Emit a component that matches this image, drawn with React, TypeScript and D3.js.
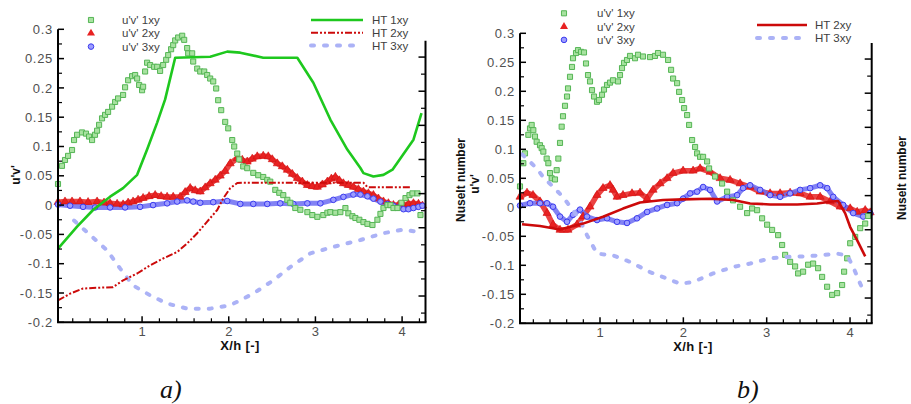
import React, { useRef, useEffect } from 'react';
import * as d3 from 'd3';

type Pt = [number, number];

// axis ticks
const uvTicks = [-0.2, -0.15, -0.1, -0.05, 0, 0.05, 0.1, 0.15, 0.2, 0.25, 0.3];
const xTicks = [1, 2, 3, 4];
const nuTicks = [20, 30, 40, 50, 60, 70, 80, 90];

// panel a) u'v' (left axis)
const aUv1: Pt[] = [[0.03,0.036],[0.076,0.067],[0.111,0.077],[0.146,0.084],[0.192,0.094],[0.215,0.111],[0.25,0.12],[0.307,0.124],[0.353,0.122],[0.388,0.117],[0.423,0.111],[0.457,0.12],[0.481,0.127],[0.504,0.137],[0.538,0.148],[0.573,0.154],[0.608,0.159],[0.654,0.168],[0.689,0.176],[0.723,0.182],[0.781,0.188],[0.804,0.201],[0.839,0.213],[0.885,0.22],[0.92,0.222],[0.943,0.216],[0.966,0.205],[1.0,0.196],[1.012,0.202],[1.035,0.228],[1.058,0.243],[1.093,0.239],[1.139,0.236],[1.174,0.236],[1.208,0.229],[1.243,0.239],[1.278,0.248],[1.301,0.256],[1.335,0.266],[1.359,0.273],[1.382,0.281],[1.416,0.286],[1.463,0.289],[1.486,0.282],[1.52,0.268],[1.532,0.259],[1.578,0.259],[1.59,0.245],[1.636,0.233],[1.671,0.228],[1.717,0.228],[1.751,0.222],[1.786,0.216],[1.821,0.211],[1.855,0.199],[1.878,0.179],[1.913,0.162],[1.959,0.142],[1.994,0.131],[2.04,0.111],[2.063,0.1],[2.098,0.088],[2.121,0.078],[2.167,0.066],[2.213,0.063],[2.283,0.055],[2.34,0.051],[2.398,0.048],[2.444,0.043],[2.479,0.04],[2.537,0.026],[2.583,0.021],[2.629,0.017],[2.676,0.009],[2.71,0.004],[2.768,-0.005],[2.826,-0.008],[2.907,-0.012],[2.964,-0.017],[3.022,-0.02],[3.091,-0.017],[3.138,-0.013],[3.172,-0.012],[3.23,-0.013],[3.288,-0.012],[3.346,-0.005],[3.38,-0.014],[3.427,-0.019],[3.461,-0.022],[3.507,-0.025],[3.554,-0.029],[3.6,-0.032],[3.658,-0.034],[3.715,-0.025],[3.75,-0.015],[3.785,-0.005],[3.831,0],[3.866,0],[3.9,-0.005],[3.946,-0.005],[3.993,0.004],[4.039,0.012],[4.085,0.017],[4.12,0.02],[4.177,0.02],[4.212,-0.017]];
const aUv2: Pt[] = [[0.03,0.005],[0.111,0.006],[0.192,0.006],[0.284,0.006],[0.377,0.005],[0.481,0.006],[0.561,0.004],[0.631,0.003],[0.712,0.002],[0.781,0.001],[0.839,0.004],[0.896,0.006],[0.954,0.009],[1.012,0.012],[1.081,0.015],[1.151,0.017],[1.22,0.015],[1.289,0.014],[1.359,0.014],[1.439,0.014],[1.497,0.022],[1.555,0.029],[1.613,0.025],[1.671,0.023],[1.728,0.03],[1.786,0.037],[1.844,0.043],[1.902,0.05],[1.959,0.058],[2.017,0.071],[2.098,0.08],[2.156,0.077],[2.213,0.074],[2.271,0.079],[2.329,0.083],[2.398,0.084],[2.456,0.083],[2.502,0.078],[2.56,0.071],[2.618,0.066],[2.676,0.06],[2.733,0.053],[2.791,0.046],[2.849,0.04],[2.907,0.034],[2.964,0.032],[3.022,0.031],[3.08,0.035],[3.138,0.04],[3.184,0.045],[3.23,0.048],[3.276,0.042],[3.323,0.037],[3.38,0.034],[3.438,0.031],[3.496,0.027],[3.554,0.023],[3.611,0.02],[3.669,0.017],[3.727,0.011],[3.785,0.006],[3.842,0.003],[3.9,0],[3.958,0],[4.016,0],[4.073,0.002],[4.131,0.003],[4.189,0.002],[4.235,-0.001]];
const aUv3: Pt[] = [[0.03,0.001],[0.169,-0.001],[0.319,-0.003],[0.457,-0.004],[0.631,-0.004],[0.804,-0.004],[0.977,-0.003],[1.127,0],[1.289,0.003],[1.405,0.006],[1.52,0.008],[1.59,0.006],[1.671,0.004],[1.821,0.005],[1.982,0.007],[2.133,0.002],[2.283,0.002],[2.444,0.002],[2.594,0.003],[2.745,0.002],[2.907,0.003],[3.057,0.003],[3.207,0.009],[3.323,0.014],[3.438,0.018],[3.519,0.018],[3.6,0.015],[3.669,0.011],[3.75,0.006],[3.831,0.002],[3.9,-0.001],[3.958,-0.004],[4.016,-0.007],[4.073,-0.007],[4.131,-0.005],[4.189,-0.003],[4.235,-0.001]];
// panel a) Nusselt number (right axis)
const aHt1: Pt[] = [[0.03,33.9],[0.25,40.3],[0.434,45.2],[0.631,49.1],[0.781,51.6],[0.943,55.5],[1.058,62.9],[1.174,70.8],[1.266,77.6],[1.382,89.8],[1.786,90.1],[1.982,91.6],[2.133,91.3],[2.398,89.8],[2.791,89.8],[2.976,82.5],[3.172,71.7],[3.368,62.9],[3.519,57.5],[3.554,56],[3.669,55],[3.785,55.5],[3.889,57],[4.131,65.8],[4.224,73.6]];
const aHt2: Pt[] = [[0.03,18.7],[0.169,20.7],[0.319,22.2],[0.55,22.5],[0.665,22.6],[0.781,24.6],[0.943,26.6],[1.093,29],[1.243,31],[1.405,32.9],[1.52,35.4],[1.636,38.4],[1.751,41.8],[1.867,45.2],[1.936,48.6],[2.017,51.6],[2.098,53.1],[2.167,53.2],[2.826,53.2],[3.554,53.2],[3.6,51.9],[4.097,51.9]];
const aHt3: Pt[] = [[0.215,42.1],[0.4,37.9],[0.596,33.4],[0.746,28.1],[0.896,23.1],[1.093,20.2],[1.289,17.8],[1.52,16.3],[1.786,16.3],[2.017,17.3],[2.283,20.7],[2.514,24.6],[2.71,28.5],[2.941,32.5],[3.207,34.4],[3.519,36.4],[3.785,38.4],[4.016,39.5],[4.177,38.8]];

// panel b) u'v' (left axis)
const bUv1: Pt[] = [[0.04,0.036],[0.08,0.076],[0.1,0.093],[0.14,0.125],[0.16,0.136],[0.18,0.142],[0.2,0.133],[0.22,0.122],[0.24,0.113],[0.28,0.107],[0.3,0.102],[0.32,0.096],[0.36,0.084],[0.38,0.076],[0.4,0.059],[0.42,0.05],[0.46,0.048],[0.48,0.064],[0.5,0.084],[0.52,0.111],[0.54,0.139],[0.556,0.157],[0.58,0.175],[0.604,0.191],[0.616,0.205],[0.64,0.225],[0.664,0.242],[0.676,0.257],[0.712,0.266],[0.736,0.271],[0.772,0.268],[0.808,0.267],[0.832,0.248],[0.856,0.228],[0.88,0.217],[0.904,0.202],[0.928,0.191],[0.964,0.182],[0.988,0.185],[1.024,0.194],[1.048,0.203],[1.084,0.211],[1.12,0.215],[1.156,0.219],[1.216,0.217],[1.24,0.228],[1.264,0.24],[1.288,0.249],[1.324,0.254],[1.36,0.261],[1.42,0.257],[1.456,0.263],[1.516,0.26],[1.6,0.259],[1.66,0.261],[1.696,0.266],[1.756,0.263],[1.817,0.254],[1.853,0.237],[1.877,0.222],[1.925,0.214],[1.949,0.199],[1.985,0.185],[2.009,0.171],[2.045,0.159],[2.069,0.142],[2.105,0.116],[2.141,0.104],[2.165,0.093],[2.201,0.087],[2.237,0.087],[2.285,0.079],[2.309,0.067],[2.381,0.053],[2.465,0.041],[2.525,0.027],[2.597,0.012],[2.681,0.001],[2.765,-0.01],[2.825,-0.002],[2.885,-0.005],[2.945,-0.019],[3.005,-0.03],[3.065,-0.039],[3.137,-0.048],[3.185,-0.065],[3.221,-0.082],[3.281,-0.094],[3.341,-0.102],[3.377,-0.114],[3.437,-0.111],[3.497,-0.099],[3.557,-0.097],[3.617,-0.105],[3.665,-0.12],[3.725,-0.137],[3.785,-0.151],[3.845,-0.148],[3.905,-0.134],[3.929,-0.111],[3.966,-0.088],[4.002,-0.062],[4.062,-0.051],[4.122,-0.036],[4.182,-0.028],[4.218,-0.015]];
const bUv2: Pt[] = [[0.04,0.018],[0.124,0.025],[0.196,0.021],[0.28,0.01],[0.364,-0.01],[0.436,-0.03],[0.52,-0.039],[0.616,-0.039],[0.724,-0.03],[0.796,-0.016],[0.88,0.001],[0.964,0.021],[1.036,0.033],[1.12,0.038],[1.156,0.03],[1.204,0.018],[1.276,0.021],[1.384,0.024],[1.48,0.025],[1.565,0.015],[1.637,0.03],[1.721,0.041],[1.805,0.05],[1.877,0.059],[1.997,0.063],[2.117,0.063],[2.201,0.067],[2.321,0.061],[2.441,0.05],[2.561,0.047],[2.681,0.041],[2.801,0.035],[2.921,0.027],[3.041,0.024],[3.161,0.024],[3.281,0.025],[3.401,0.024],[3.521,0.018],[3.641,0.018],[3.762,0.01],[3.882,0.001],[4.002,-0.002],[4.086,-0.008],[4.182,-0.005],[4.242,-0.009]];
const bUv3: Pt[] = [[0.04,0.003],[0.16,0.007],[0.28,0.007],[0.364,0.007],[0.436,0.001],[0.52,-0.016],[0.604,-0.025],[0.676,-0.013],[0.76,-0.004],[0.844,-0.016],[0.964,-0.022],[1.084,-0.019],[1.204,-0.025],[1.324,-0.027],[1.444,-0.019],[1.565,-0.008],[1.685,-0.002],[1.805,0.004],[1.925,0.007],[1.997,0.015],[2.081,0.024],[2.165,0.027],[2.237,0.035],[2.321,0.03],[2.405,0.01],[2.525,0.018],[2.645,0.021],[2.717,0.033],[2.801,0.038],[2.921,0.03],[3.041,0.021],[3.161,0.018],[3.281,0.024],[3.401,0.03],[3.521,0.033],[3.641,0.038],[3.726,0.033],[3.798,0.018],[3.918,0.004],[4.038,-0.01],[4.158,-0.016],[4.242,-0.01]];
// panel b) Nusselt number (right axis)
const bHt2: Pt[] = [[0.064,41.6],[0.28,41.1],[0.52,40.1],[0.796,41.8],[1.036,43.8],[1.276,46.2],[1.48,48],[1.757,48.7],[1.997,48.9],[2.321,49.1],[2.597,48.7],[2.801,47.7],[3.041,47.4],[3.365,47.4],[3.605,47.7],[3.762,48.2],[3.858,48.4],[3.942,44.8],[4.002,40.8],[4.086,36.9],[4.182,32.2]];
const bHt3: Pt[] = [[0.064,62.1],[0.16,59.9],[0.244,57.9],[0.316,55.5],[0.436,52.6],[0.556,49.6],[0.676,45.7],[0.76,42.8],[0.844,38.4],[0.964,33],[1.156,32.5],[1.36,30.6],[1.6,27.6],[1.805,25.7],[1.961,24.2],[2.117,24.7],[2.357,27.2],[2.597,29.1],[2.801,30.1],[3.041,31.6],[3.197,32],[3.437,32.2],[3.641,32.5],[3.845,33],[3.966,32.5],[4.038,29.1],[4.122,24.2],[4.182,21.3]];

const FONT = "'Liberation Sans', Arial, sans-serif";

const GREEN_FILL = '#a8e2a0', GREEN_STROKE = '#55b555';
const RED = '#e82222';
const BLUE_FILL = '#9c9cff', BLUE_STROKE = '#3c3cee';
const HT_GREEN = '#1ec81e', HT_RED = '#cc0a0a', HT_BLUE = '#abb2f6';

const lineStyles: Record<string, { color: string; width: number; dash: string | null; cap: string }> = {
  ht1: { color: HT_GREEN, width: 2.6, dash: null, cap: 'butt' },
  ht2dd: { color: HT_RED, width: 2, dash: '7,2,2,2,2,2', cap: 'butt' },
  ht2: { color: HT_RED, width: 2.6, dash: null, cap: 'butt' },
  ht3: { color: HT_BLUE, width: 4, dash: '3,10', cap: 'round' },
};

function drawPanel(svg: any, p: any) {
  const x = d3.scaleLinear().domain(p.xDom).range([p.left, p.right]);
  const y = d3.scaleLinear().domain([-0.2, 0.3]).range([p.bottom, p.top]);
  const nu = d3.scaleLinear().domain(p.nuDom).range([p.bottom, p.nuTop]);
  const g = svg.append('g');

  // marker series: dense bands under the symbols
  const bandLine = d3.line<Pt>().x(d => x(d[0])).y(d => y(d[1]));
  g.append('path').attr('d', bandLine(p.uv2)).attr('fill', 'none')
    .attr('stroke', RED).attr('stroke-width', 5.5).attr('stroke-opacity', 0.85).attr('stroke-linejoin', 'round');
  g.append('path').attr('d', bandLine(p.uv3)).attr('fill', 'none')
    .attr('stroke', '#6c6cf2').attr('stroke-width', 5).attr('stroke-opacity', 0.85).attr('stroke-linejoin', 'round');

  const tri = d3.symbol().type(d3.symbolTriangle).size(28)();
  const sq = d3.symbol().type(d3.symbolSquare).size(26)();
  g.append('g').selectAll('path').data(p.uv2).enter().append('path')
    .attr('d', tri).attr('transform', (d: Pt) => `translate(${x(d[0])},${y(d[1])})`)
    .attr('fill', RED).attr('stroke', '#d01010').attr('stroke-width', 0.6);
  g.append('g').selectAll('circle').data(p.uv3).enter().append('circle')
    .attr('cx', (d: Pt) => x(d[0])).attr('cy', (d: Pt) => y(d[1])).attr('r', 2.8)
    .attr('fill', BLUE_FILL).attr('stroke', BLUE_STROKE).attr('stroke-width', 1);
  g.append('g').selectAll('path').data(p.uv1).enter().append('path')
    .attr('d', sq).attr('transform', (d: Pt) => `translate(${x(d[0])},${y(d[1])})`)
    .attr('fill', GREEN_FILL).attr('stroke', GREEN_STROKE).attr('stroke-width', 1);

  // HT lines on the Nusselt axis
  const nuLine = d3.line<Pt>().x(d => x(d[0])).y(d => nu(d[1]));
  p.hts.forEach((h: any) => {
    const s = lineStyles[h.style];
    g.append('path').attr('d', nuLine(h.data)).attr('fill', 'none')
      .attr('stroke', s.color).attr('stroke-width', s.width)
      .attr('stroke-dasharray', s.dash).attr('stroke-linecap', s.cap)
      .attr('stroke-linejoin', 'round');
  });

  // axes
  const ax = g.append('g').attr('stroke', '#000');
  ax.append('line').attr('x1', p.left).attr('x2', p.left).attr('y1', p.top).attr('y2', p.bottom).attr('stroke-width', 2);
  ax.append('line').attr('x1', p.left - 1).attr('x2', p.right + 1).attr('y1', p.bottom).attr('y2', p.bottom).attr('stroke-width', 2);
  ax.append('line').attr('x1', p.right).attr('x2', p.right).attr('y1', p.nuTop).attr('y2', p.bottom).attr('stroke-width', 2);

  uvTicks.forEach((v, i) => {
    ax.append('line').attr('x1', p.left).attr('x2', p.left + 6).attr('y1', y(v)).attr('y2', y(v)).attr('stroke-width', 1.5);
    if (i < uvTicks.length - 1) {
      const m = (v + uvTicks[i + 1]) / 2;
      ax.append('line').attr('x1', p.left).attr('x2', p.left + 4).attr('y1', y(m)).attr('y2', y(m)).attr('stroke-width', 1.2);
    }
  });
  d3.range(1, 22).forEach(k => {
    const v = k * 0.2;
    const major = k % 5 === 0;
    ax.append('line').attr('x1', x(v)).attr('x2', x(v)).attr('y1', p.bottom)
      .attr('y2', p.bottom - (major ? 6 : 4)).attr('stroke-width', major ? 1.5 : 1.2);
  });
  nuTicks.forEach(v => {
    ax.append('line').attr('x1', p.right).attr('x2', p.right - 7).attr('y1', nu(v)).attr('y2', nu(v)).attr('stroke-width', 1.5);
    ax.append('line').attr('x1', p.right).attr('x2', p.right - 4.5).attr('y1', nu(v - 5)).attr('y2', nu(v - 5)).attr('stroke-width', 1.2);
  });

  const tl = g.append('g').attr('font-family', FONT).attr('font-size', 13).attr('fill', '#505050');
  uvTicks.forEach(v => {
    tl.append('text').attr('x', p.left - 5).attr('y', y(v)).attr('dy', '0.36em')
      .attr('text-anchor', 'end').attr('letter-spacing', 0.7).text(String(v));
  });
  xTicks.forEach(v => {
    tl.append('text').attr('x', x(v)).attr('y', p.bottom + 14).attr('text-anchor', 'middle').text(String(v));
  });

  const bold = g.append('g').attr('font-family', FONT).attr('font-weight', 'bold').attr('fill', '#111');
  bold.append('text').attr('x', p.xTitleX).attr('y', p.bottom + 28).attr('text-anchor', 'middle')
    .attr('font-size', 13).attr('letter-spacing', 0.4).text('X/h [-]');
  p.yTitles.forEach((t: any) => {
    bold.append('text').attr('transform', `translate(${t.x},${t.y}) rotate(-90)`)
      .attr('font-size', 12).attr('text-anchor', 'middle').attr('dy', '0.35em').text(t.text);
  });

  // legends
  const lg = g.append('g').attr('font-family', FONT).attr('font-size', 11.5).attr('fill', '#404040');
  p.symLegend.items.forEach((it: string, i: number) => {
    const cy = p.symLegend.y + i * p.symLegend.dy;
    const cx = p.symLegend.x;
    if (i === 0) lg.append('path').attr('d', sq).attr('transform', `translate(${cx},${cy})`).attr('fill', GREEN_FILL).attr('stroke', GREEN_STROKE);
    if (i === 1) lg.append('path').attr('d', tri).attr('transform', `translate(${cx},${cy})`).attr('fill', RED);
    if (i === 2) lg.append('circle').attr('cx', cx).attr('cy', cy).attr('r', 2.8).attr('fill', BLUE_FILL).attr('stroke', BLUE_STROKE);
    lg.append('text').attr('x', p.symLegend.tx).attr('y', cy).attr('dy', '0.36em').text(it);
  });
  p.lineLegend.items.forEach((it: any, i: number) => {
    const cy = p.lineLegend.y + i * p.lineLegend.dy;
    const s = lineStyles[it.style];
    lg.append('line').attr('x1', p.lineLegend.x1).attr('x2', p.lineLegend.x2).attr('y1', cy).attr('y2', cy)
      .attr('stroke', s.color).attr('stroke-width', s.width).attr('stroke-dasharray', s.dash).attr('stroke-linecap', s.cap);
    lg.append('text').attr('x', p.lineLegend.tx).attr('y', cy).attr('dy', '0.36em').text(it.label);
  });

  g.append('text').attr('x', p.letterX).attr('y', 398).attr('font-family', "'Liberation Serif', 'Times New Roman', serif")
    .attr('font-style', 'italic').attr('font-size', 26).attr('fill', '#111').text(p.letter);
}

const panelA = {
  left: 58, right: 425.5, top: 29.3, bottom: 322.3, nuTop: 40.7,
  xDom: [0.03, 4.27], nuDom: [12.3, 94.8],
  uv1: aUv1, uv2: aUv2, uv3: aUv3,
  hts: [{ data: aHt3, style: 'ht3' }, { data: aHt2, style: 'ht2dd' }, { data: aHt1, style: 'ht1' }],
  xTitleX: 240,
  yTitles: [{ x: 16, y: 175, text: "u'v'" }],
  symLegend: { x: 91, y: 20, dy: 13.3, tx: 122, items: ["u'v' 1xy", "u'v' 2xy", "u'v' 3xy"] },
  lineLegend: { x1: 311, x2: 363, y: 20, dy: 12.8, tx: 372, items: [
    { label: 'HT 1xy', style: 'ht1' }, { label: 'HT 2xy', style: 'ht2dd' }, { label: 'HT 3xy', style: 'ht3' }] },
  letter: 'a)', letterX: 160,
};

const panelB = {
  left: 520, right: 871.7, top: 33.3, bottom: 323.3, nuTop: 43,
  xDom: [0.04, 4.26], nuDom: [12.6, 94.7],
  uv1: bUv1, uv2: bUv2, uv3: bUv3,
  hts: [{ data: bHt3, style: 'ht3' }, { data: bHt2, style: 'ht2' }],
  xTitleX: 693,
  yTitles: [{ x: 461, y: 180, text: 'Nuselt number' }, { x: 475, y: 184, text: "u'v'" }, { x: 902, y: 178, text: 'Nuselt number' }],
  symLegend: { x: 564, y: 13.3, dy: 13.3, tx: 597, items: ["u'v' 1xy", "u'v' 2xy", "u'v' 3xy"] },
  lineLegend: { x1: 757, x2: 807, y: 25, dy: 13, tx: 815, items: [
    { label: 'HT 2xy', style: 'ht2' }, { label: 'HT 3xy', style: 'ht3' }] },
  letter: 'b)', letterX: 737,
};

const App = () => {
  const ref = useRef<SVGSVGElement>(null);
  useEffect(() => {
    const svg = d3.select(ref.current);
    svg.selectAll('*').remove();
    svg.append('rect').attr('width', 911).attr('height', 404).attr('fill', '#fff');
    drawPanel(svg, panelA);
    drawPanel(svg, panelB);
  }, []);
  return (
    <svg ref={ref} width={911} height={404}
      style={{ position: 'absolute', left: 0, top: 0, display: 'block' }} />
  );
};

export default App;
